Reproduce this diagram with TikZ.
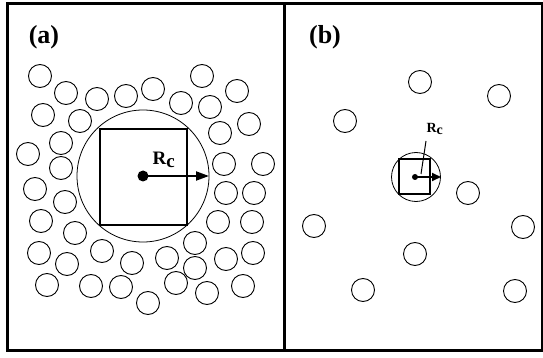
\documentclass[tikz,border=0pt]{standalone}
\usepackage{fontspec}
\setmainfont{Liberation Serif}
\usetikzlibrary{arrows.meta}
\tikzset{
  particle/.style={draw=black, line width=0.9pt},
  frameline/.style={draw=black, line width=3pt},
  cutoff/.style={draw=black, line width=0.8pt},
  cellbox/.style={draw=black, line width=2pt},
  centredot/.style={circle, fill=black, inner sep=0pt},
  panellabel/.style={inner sep=0pt, font=\bfseries\fontsize{26}{26}\selectfont},
  radiuslabel/.style={inner sep=0pt, font=\bfseries\fontsize{19}{19}\selectfont}
}

\begin{document}
\begin{tikzpicture}[x=1pt, y=-1pt]
  \useasboundingbox (0,0) rectangle (543,358);
  % frame and divider
  \draw[frameline] (7,4) rectangle (542,350);
  \draw[frameline] (284,4) -- (284,350);
  \node[panellabel] (labA) at (44,37) {(a)};
  \node[panellabel] (labB) at (325,37) {(b)};

  % panel (a): dense liquid
  \draw[particle] (40,76) circle[radius=11.5pt];
  \draw[particle] (66,93) circle[radius=11.5pt];
  \draw[particle] (97,99) circle[radius=11.5pt];
  \draw[particle] (126,96) circle[radius=11.5pt];
  \draw[particle] (153,89) circle[radius=11.5pt];
  \draw[particle] (202,76) circle[radius=11.5pt];
  \draw[particle] (237,91) circle[radius=11.5pt];
  \draw[particle] (181,103) circle[radius=11.5pt];
  \draw[particle] (210,107) circle[radius=11.5pt];
  \draw[particle] (43,115) circle[radius=11.5pt];
  \draw[particle] (80,121) circle[radius=11.5pt];
  \draw[particle] (249,124) circle[radius=11.5pt];
  \draw[particle] (220,133) circle[radius=11.5pt];
  \draw[particle] (61,143) circle[radius=11.5pt];
  \draw[particle] (28,154) circle[radius=11.5pt];
  \draw[particle] (61,168) circle[radius=11.5pt];
  \draw[particle] (224,164) circle[radius=11.5pt];
  \draw[particle] (263,164) circle[radius=11.5pt];
  \draw[particle] (35,189) circle[radius=11.5pt];
  \draw[particle] (65,202) circle[radius=11.5pt];
  \draw[particle] (226,193) circle[radius=11.5pt];
  \draw[particle] (254,193) circle[radius=11.5pt];
  \draw[particle] (41,221) circle[radius=11.5pt];
  \draw[particle] (75,233) circle[radius=11.5pt];
  \draw[particle] (218,222) circle[radius=11.5pt];
  \draw[particle] (252,222) circle[radius=11.5pt];
  \draw[particle] (195,243) circle[radius=11.5pt];
  \draw[particle] (39,253) circle[radius=11.5pt];
  \draw[particle] (67,264) circle[radius=11.5pt];
  \draw[particle] (102,251) circle[radius=11.5pt];
  \draw[particle] (132,263) circle[radius=11.5pt];
  \draw[particle] (167,258) circle[radius=11.5pt];
  \draw[particle] (195,268) circle[radius=11.5pt];
  \draw[particle] (226,259) circle[radius=11.5pt];
  \draw[particle] (253,253) circle[radius=11.5pt];
  \draw[particle] (47,285) circle[radius=11.5pt];
  \draw[particle] (91,286) circle[radius=11.5pt];
  \draw[particle] (121,287) circle[radius=11.5pt];
  \draw[particle] (148,303) circle[radius=11.5pt];
  \draw[particle] (176,283) circle[radius=11.5pt];
  \draw[particle] (207,293) circle[radius=11.5pt];
  \draw[particle] (243,286) circle[radius=11.5pt];
  % cavity, cell and radius
  \draw[cutoff] (143,176) circle[radius=66pt];
  \draw[cellbox] (100,129) rectangle (187,225);
  \node[centredot, minimum size=11pt] (dotA) at (143,176) {};
  \coordinate (tipA) at (209,176);
  \draw[line width=2pt, -{Triangle[length=13pt, width=9pt]}] (dotA.center) -- (tipA);
  \node[radiuslabel] (rcA) at (164,160) {R$_{\textbf{c}}$};

  % panel (b): dilute gas
  \draw[particle] (420,82) circle[radius=11.5pt];
  \draw[particle] (499,96) circle[radius=11.5pt];
  \draw[particle] (345,121) circle[radius=11.5pt];
  \draw[particle] (468,193) circle[radius=11.5pt];
  \draw[particle] (314,226) circle[radius=11.5pt];
  \draw[particle] (523,227) circle[radius=11.5pt];
  \draw[particle] (415,254) circle[radius=11.5pt];
  \draw[particle] (363,290) circle[radius=11.5pt];
  \draw[particle] (515,291) circle[radius=11.5pt];
  % cavity, cell and radius
  \draw[cutoff] (416,177) circle[radius=24.5pt];
  \draw[cellbox] (399,159) rectangle (430,194);
  \node[centredot, minimum size=6pt] (dotB) at (415,177) {};
  \coordinate (tipB) at (441,177);
  \draw[line width=2pt, -{Triangle[length=9pt, width=8pt]}] (dotB.center) -- (tipB);
  \node[radiuslabel, font=\bfseries\fontsize{14}{14}\selectfont] (rcB) at (435,129) {R$_{\textbf{c}}$};
  \coordinate (legB) at (426,141);
  \draw[line width=1pt] (legB) -- (421,174);
\end{tikzpicture}
\end{document}
